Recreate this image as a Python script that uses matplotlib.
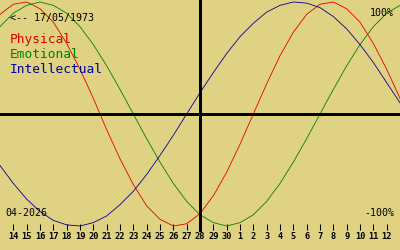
import matplotlib
matplotlib.use('Agg')
import matplotlib.pyplot as plt

# Biorhythm values, one per day (13 Apr .. 13 May 2026)
days = list(range(31))
day_labels = [str(d) for d in range(14, 31)] + [str(d) for d in range(1, 13)]
physical = [0.89, 0.98, 1.00, 0.94, 0.82, 0.63, 0.40, 0.14, -0.14, -0.40,
            -0.63, -0.82, -0.94, -1.00, -0.98, -0.89, -0.73, -0.52, -0.27, 0.00,
            0.27, 0.52, 0.73, 0.89, 0.98, 1.00, 0.94, 0.82, 0.63, 0.40, 0.14]
emotional = [0.78, 0.90, 0.97, 1.00, 0.97, 0.90, 0.78, 0.62, 0.43, 0.22,
             0.00, -0.22, -0.43, -0.62, -0.78, -0.90, -0.97, -1.00, -0.97, -0.90,
             -0.78, -0.62, -0.43, -0.22, 0.00, 0.22, 0.43, 0.62, 0.78, 0.90, 0.97]
intellectual = [-0.46, -0.62, -0.76, -0.87, -0.95, -0.99, -1.00, -0.97, -0.91, -0.81,
                -0.69, -0.54, -0.37, -0.19, 0.00, 0.19, 0.37, 0.54, 0.69, 0.81,
                0.91, 0.97, 1.00, 0.99, 0.95, 0.87, 0.76, 0.62, 0.46, 0.28, 0.10]
series = {'Physical': (physical, '#e00000'),
          'Emotional': (emotional, '#008000'),
          'Intellectual': (intellectual, '#000099')}

bg = '#e0d283'
W, H = 400, 250

fig = plt.figure(figsize=(4, 2.5), dpi=100, facecolor=bg)
ax = fig.add_axes([0, 26 / H, 1, 1 - 26 / H])
ax.set_facecolor(bg)

for name, (vals, col) in series.items():
    ax.plot(days, vals, color=col, lw=0.6, clip_on=False)

# centre cross
ax.axhline(0, color='k', lw=0.75, antialiased=False)
ax.axvline(15, ymin=-6 / 224, ymax=1, color='k', lw=0.75, clip_on=False, antialiased=False)

ax.set_xlim(0, 30)
ax.set_ylim(-110 / 112, 114 / 112)
ax.set_xticks(days[1:30])
ax.set_xticklabels(day_labels, family='DejaVu Sans Mono', fontsize=6.2, fontweight='bold')
ax.tick_params(axis='x', direction='out', length=4.3, width=0.75, pad=1.8, color='k')
ax.set_yticks([])
for s in ax.spines.values():
    s.set_visible(False)


def put(x, y, txt, **kw):
    fig.text(x / W, 1 - y / H, txt, family='DejaVu Sans Mono', va='baseline', **kw)


put(10, 21, '<-- 17/05/1973', fontsize=7.2)
put(10, 43, 'Physical', fontsize=9.3, color=series['Physical'][1])
put(10, 58, 'Emotional', fontsize=9.3, color=series['Emotional'][1])
put(10, 73, 'Intellectual', fontsize=9.3, color=series['Intellectual'][1])
put(394, 16, '100%', fontsize=7.2, ha='right')
put(394, 216, '-100%', fontsize=7.2, ha='right')
put(5, 216, '04-2026', fontsize=7.2)

fig.savefig('out.png', dpi=100, facecolor=bg)
